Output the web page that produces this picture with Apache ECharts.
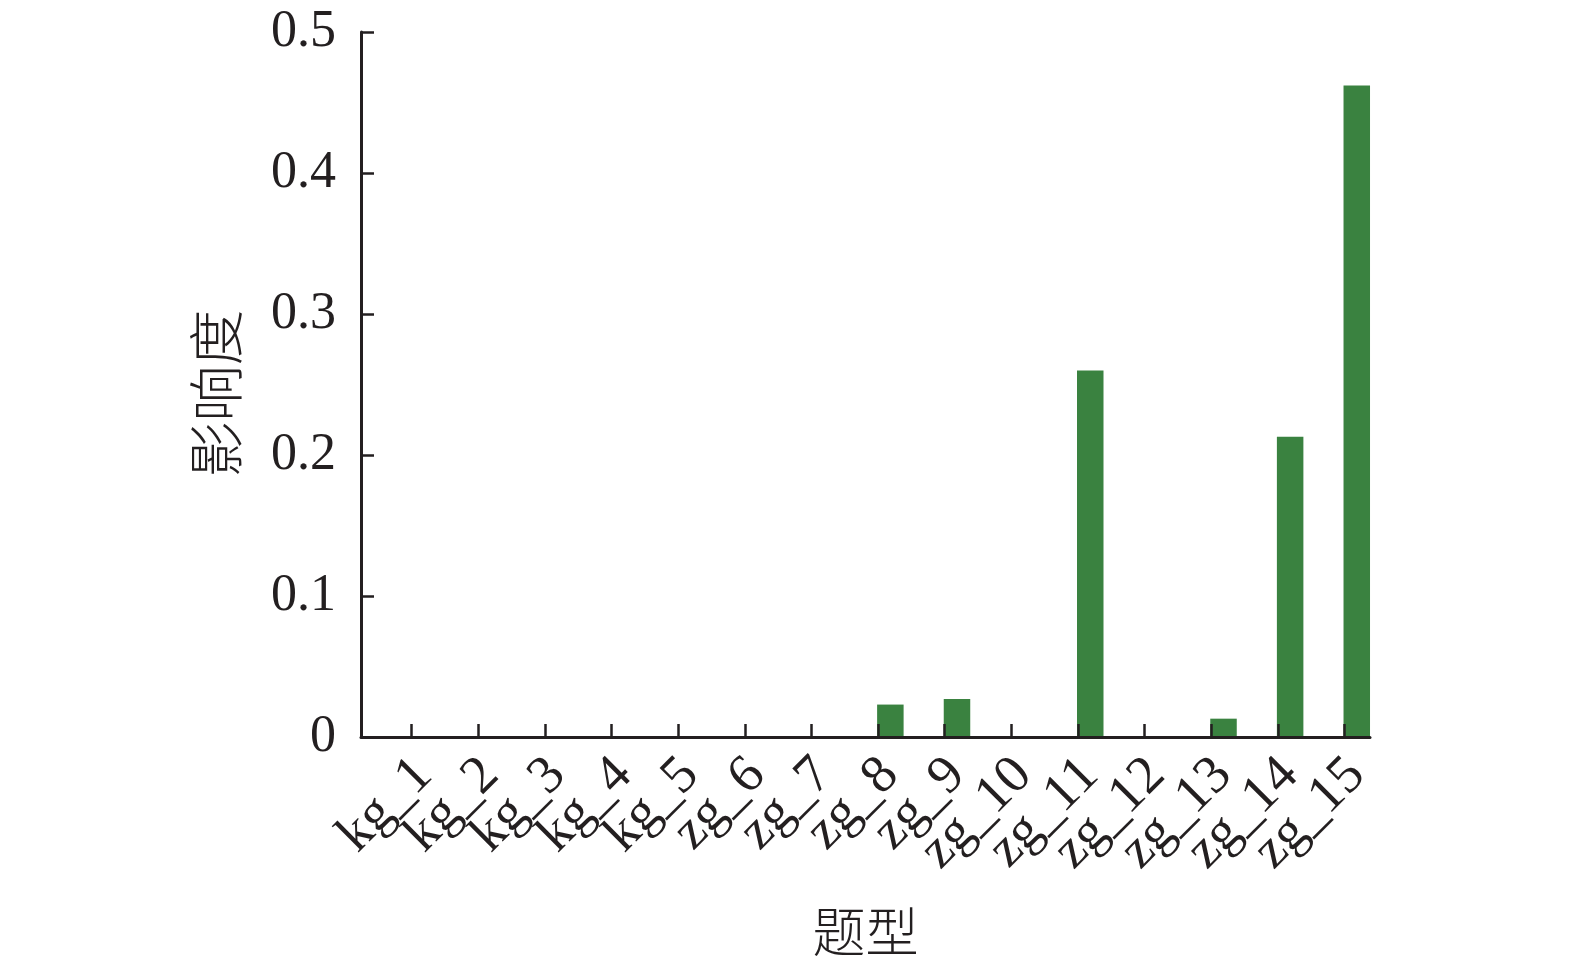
<!DOCTYPE html>
<html>
<head>
<meta charset="utf-8">
<title>影响度</title>
<script src="https://cdn.jsdelivr.net/npm/echarts@6/dist/echarts.min.js"></script>
<style>
html, body { margin: 0; padding: 0; background: #fff; }
#chart { width: 1575px; height: 968px; }
</style>
</head>
<body>
<div id="chart"></div>
<script>
// 题型
var categories = ['kg_1', 'kg_2', 'kg_3', 'kg_4', 'kg_5', 'zg_6', 'zg_7', 'zg_8',
                  'zg_9', 'zg_10', 'zg_11', 'zg_12', 'zg_13', 'zg_14', 'zg_15'];
// 影响度
var influence = [0, 0, 0, 0, 0, 0, 0, 0.023, 0.027, 0, 0.26, 0, 0.013, 0.213, 0.462];
// y轴范围和刻度
var yMin = 0, yMax = 0.5, yStep = 0.1;

var ink = '#231f20';
var serif = "'Liberation Serif', 'Times New Roman', serif";
var cjk = "'Noto Sans CJK SC', sans-serif";

// 画布位置 (px)
var axisLeft = 361, axisRight = 1370, axisTop = 32, axisBottom = 737;
var firstTick = 411.7, step = 66.63, barW = 26.5;

// 刻度在柱子左边, 标签在柱子中间
var barCenter0 = firstTick - 1 + barW / 2;
var barGridLeft = barCenter0 - step / 2;
var barGridRight = barGridLeft + step * categories.length;
// 外框轴的数值范围, 让刻度落在整数位置上
var frameMin = -(firstTick - axisLeft) / step;
var frameMax = frameMin + (axisRight - axisLeft) / step;

var chart = echarts.init(document.getElementById('chart'));

var option = {
    backgroundColor: '#fff',
    animation: false,
    grid: [
        { left: axisLeft, right: 1575 - axisRight, top: axisTop, bottom: 968 - axisBottom },
        { left: barGridLeft, right: 1575 - barGridRight, top: axisTop, bottom: 968 - axisBottom }
    ],
    xAxis: [
        {
            // 外框: 轴线 + 刻度 + 轴名
            gridIndex: 0,
            type: 'value',
            min: frameMin,
            max: frameMax,
            z: 5,
            name: '题型',
            nameLocation: 'middle',
            nameGap: 168,
            nameTextStyle: { fontFamily: cjk, fontSize: 53, color: ink, fontWeight: 300 },
            axisLine: { show: true, onZero: false, lineStyle: { color: ink, width: 3 } },
            axisTick: {
                show: true,
                inside: true,
                length: 13,
                customValues: categories.map(function (c, i) { return i; }),
                lineStyle: { color: ink, width: 2.5 }
            },
            axisLabel: { show: false },
            splitLine: { show: false }
        },
        {
            gridIndex: 1,
            type: 'category',
            data: categories,
            axisLine: { show: false },
            axisTick: { show: false },
            axisLabel: {
                rotate: 45,
                margin: 30,
                interval: 0,
                fontFamily: serif,
                fontSize: 54,
                color: ink
            },
            splitLine: { show: false }
        }
    ],
    yAxis: [
        {
            gridIndex: 0,
            type: 'value',
            min: yMin,
            max: yMax,
            interval: yStep,
            z: 5,
            name: '影响度',
            nameLocation: 'middle',
            nameGap: 117,
            nameTextStyle: { fontFamily: cjk, fontSize: 56, color: ink, fontWeight: 300, padding: [0, 18, 0, 0] },
            axisLine: { show: true, onZero: false, lineStyle: { color: ink, width: 3 } },
            axisTick: { show: true, inside: true, length: 13, lineStyle: { color: ink, width: 2.5 } },
            axisLabel: { margin: 25, fontFamily: serif, fontSize: 52, color: ink },
            splitLine: { show: false }
        },
        {
            gridIndex: 1,
            type: 'value',
            min: yMin,
            max: yMax,
            show: false
        }
    ],
    series: [
        {
            name: '影响度',
            type: 'bar',
            xAxisIndex: 1,
            yAxisIndex: 1,
            data: influence,
            barWidth: barW,
            itemStyle: { color: '#3a8240' }
        }
    ]
};

chart.setOption(option);
window.addEventListener('resize', function () { chart.resize(); });
</script>
</body>
</html>
